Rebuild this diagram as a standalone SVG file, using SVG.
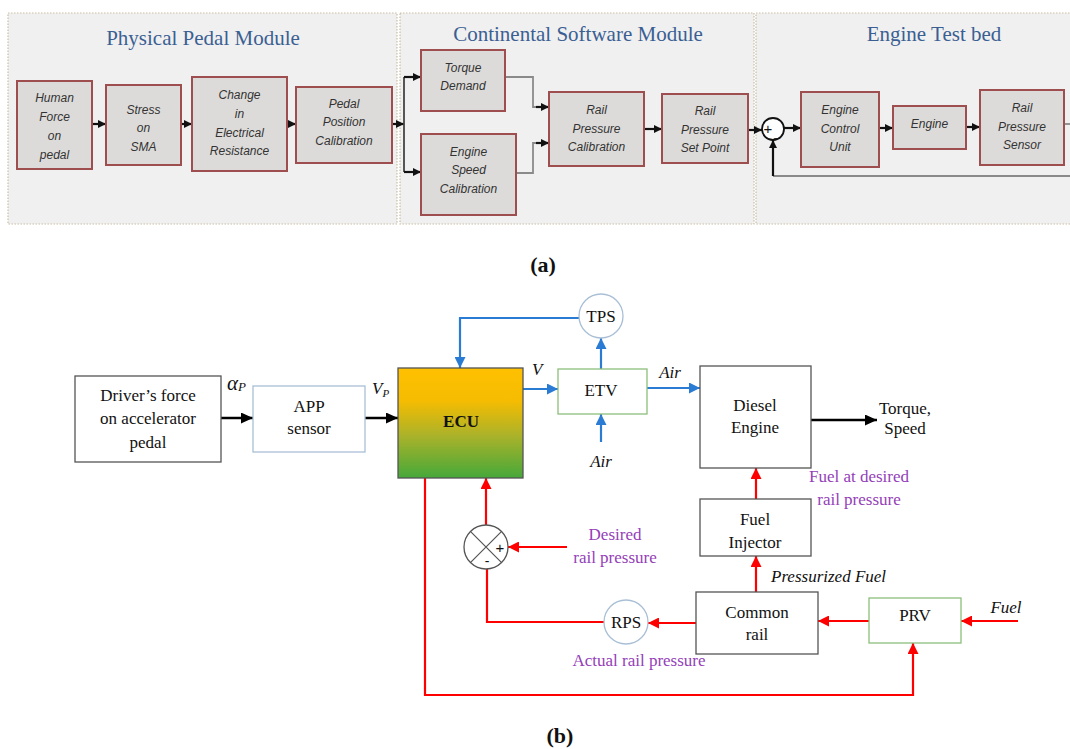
<svg xmlns="http://www.w3.org/2000/svg" width="1070" height="749" viewBox="0 0 1070 749">
<style>
.pa{fill:#f0f0f0;stroke:#c9bfa6;stroke-width:1.2;stroke-dasharray:1.5 1.5}
.ttl{font-family:"Liberation Serif",serif;font-size:21px;fill:#3b5f93;text-anchor:middle}
.ba{fill:#dddbd9;stroke:#9e4e4e;stroke-width:2}
.ta{font-family:"Liberation Sans",Arial,sans-serif;font-style:italic;font-size:12px;fill:#333;text-anchor:middle}
.ca{fill:none;stroke:#111;stroke-width:2.2}
.cg{fill:none;stroke:#8a8a8a;stroke-width:1.8}
.bk{fill:none;stroke:#000;stroke-width:2.5}
.bl{fill:none;stroke:#2a7bd4;stroke-width:2.2}
.rd{fill:none;stroke:#ff0000;stroke-width:2.2}
.tb{font-family:"Liberation Serif",serif;font-size:17px;fill:#111;text-anchor:middle}
.ti{font-family:"Liberation Serif",serif;font-style:italic;font-size:17px;fill:#111}
.pu{font-family:"Liberation Serif",serif;font-size:17px;fill:#9440b8;text-anchor:middle}
.lab{font-family:"Liberation Serif",serif;font-weight:bold;font-size:22px;fill:#111;text-anchor:middle}
</style>
<defs>
<marker id="ma" viewBox="0 0 10 10" refX="10" refY="5" markerWidth="8" markerHeight="8" markerUnits="userSpaceOnUse" orient="auto"><path d="M0,0L10,5L0,10z" fill="#111"/></marker>
<marker id="mk" viewBox="0 0 10 10" refX="10" refY="5" markerWidth="12" markerHeight="11" markerUnits="userSpaceOnUse" orient="auto" preserveAspectRatio="none"><path d="M0,0L10,5L0,10z" fill="#000"/></marker>
<marker id="mb" viewBox="0 0 10 10" refX="10" refY="5" markerWidth="11" markerHeight="11" markerUnits="userSpaceOnUse" orient="auto" preserveAspectRatio="none"><path d="M0,0L10,5L0,10z" fill="#2a7bd4"/></marker>
<marker id="mr" viewBox="0 0 10 10" refX="10" refY="5" markerWidth="11" markerHeight="11" markerUnits="userSpaceOnUse" orient="auto" preserveAspectRatio="none"><path d="M0,0L10,5L0,10z" fill="#ff0000"/></marker>
<linearGradient id="ecu" x1="0" y1="0" x2="0" y2="1">
<stop offset="0" stop-color="#ffc000"/><stop offset="0.3" stop-color="#f5bc02"/><stop offset="0.62" stop-color="#a9b22a"/><stop offset="1" stop-color="#45a83a"/>
</linearGradient>
</defs>

<g id="panel-a-bg">
<rect class="pa" x="8" y="13" width="389" height="211"/>
<rect class="pa" x="400" y="13" width="354" height="211"/>
<rect class="pa" x="756" y="13" width="320" height="211"/>
<text class="ttl" x="203" y="45">Physical Pedal Module</text>
<text class="ttl" x="578" y="41">Continental Software Module</text>
<text class="ttl" x="934" y="41">Engine Test bed</text>
</g>

<g id="connectors">
<path class="ca" d="M92,124H106" marker-end="url(#ma)"/>
<path class="ca" d="M181,124H192" marker-end="url(#ma)"/>
<path class="ca" d="M287,124H296" marker-end="url(#ma)"/>
<path class="ca" d="M392,124H404" marker-end="url(#ma)"/>
<path class="cg" d="M404,77V172" style="stroke:#444"/>
<path class="ca" d="M404,77H421" marker-end="url(#ma)"/>
<path class="ca" d="M404,172H421" marker-end="url(#ma)"/>
<path class="cg" d="M505,77H533V107H541"/>
<path class="ca" d="M536,107H549" marker-end="url(#ma)"/>
<path class="cg" d="M516,173H533V143H541"/>
<path class="ca" d="M536,143H549" marker-end="url(#ma)"/>
<path class="ca" d="M644,129H662" marker-end="url(#ma)"/>
<path class="ca" d="M748,130H762" marker-end="url(#ma)"/>
<path class="ca" d="M784,128H801" marker-end="url(#ma)"/>
<path class="ca" d="M879,128H893" marker-end="url(#ma)"/>
<path class="ca" d="M966,127H980" marker-end="url(#ma)"/>
<path class="cg" d="M1064,124H1070"/>
<path class="cg" d="M1070,176H773"/>
<path class="ca" d="M773,176V140" marker-end="url(#ma)"/>

<path class="bk" d="M221,418H253" marker-end="url(#mk)"/>
<path class="bk" d="M365,418H398" marker-end="url(#mk)"/>
<path class="bl" d="M579,318H460V368" marker-end="url(#mb)"/>
<path class="bl" d="M523,389H558" marker-end="url(#mb)"/>
<path class="bl" d="M601,369V338" marker-end="url(#mb)"/>
<path class="bl" d="M601,442V414" marker-end="url(#mb)"/>
<path class="bl" d="M647,388H700" marker-end="url(#mb)"/>
<path class="bk" d="M811,420H877" marker-end="url(#mk)"/>
<path class="rd" d="M756,499V468" marker-end="url(#mr)"/>
<path class="rd" d="M756,592V556" marker-end="url(#mr)"/>
<path class="rd" d="M869,621H818" marker-end="url(#mr)"/>
<path class="rd" d="M1018,621H961" marker-end="url(#mr)"/>
<path class="rd" d="M696,623H648" marker-end="url(#mr)"/>
<path class="rd" d="M604,622H487V569"/>
<path class="rd" d="M486,525V478" marker-end="url(#mr)"/>
<path class="rd" d="M567,547H508" marker-end="url(#mr)"/>
<path class="rd" d="M425,478V695H913V643" marker-end="url(#mr)"/>
</g>

<g id="human-force"><rect class="ba" x="17" y="81" width="75" height="88"/>
<text class="ta" x="54.5" y="102">Human</text><text class="ta" x="54.5" y="121">Force</text><text class="ta" x="54.5" y="140">on</text><text class="ta" x="54.5" y="159">pedal</text></g>
<g id="stress-sma"><rect class="ba" x="106" y="85" width="75" height="80"/>
<text class="ta" x="143.5" y="114">Stress</text><text class="ta" x="143.5" y="132">on</text><text class="ta" x="143.5" y="151">SMA</text></g>
<g id="change-resistance"><rect class="ba" x="192" y="77" width="95" height="94"/>
<text class="ta" x="239.5" y="99">Change</text><text class="ta" x="239.5" y="118">in</text><text class="ta" x="239.5" y="137">Electrical</text><text class="ta" x="239.5" y="155">Resistance</text></g>
<g id="pedal-position"><rect class="ba" x="296" y="87" width="96" height="76"/>
<text class="ta" x="344" y="108">Pedal</text><text class="ta" x="344" y="126">Position</text><text class="ta" x="344" y="145">Calibration</text></g>
<g id="torque-demand"><rect class="ba" x="421" y="50" width="84" height="61"/>
<text class="ta" x="463" y="72">Torque</text><text class="ta" x="463" y="90">Demand</text></g>
<g id="engine-speed-cal"><rect class="ba" x="421" y="134" width="95" height="81"/>
<text class="ta" x="468.5" y="156">Engine</text><text class="ta" x="468.5" y="174">Speed</text><text class="ta" x="468.5" y="193">Calibration</text></g>
<g id="rail-pressure-cal"><rect class="ba" x="549" y="92" width="95" height="74"/>
<text class="ta" x="596.5" y="114">Rail</text><text class="ta" x="596.5" y="133">Pressure</text><text class="ta" x="596.5" y="151">Calibration</text></g>
<g id="rail-pressure-setpoint"><rect class="ba" x="662" y="94" width="86" height="69"/>
<text class="ta" x="705" y="115">Rail</text><text class="ta" x="705" y="134">Pressure</text><text class="ta" x="705" y="152">Set Point</text></g>
<g id="sum-a"><circle cx="773" cy="129" r="11" fill="#fff" stroke="#111" stroke-width="1.8"/>
<text x="768" y="134" style="font-family:'Liberation Sans',sans-serif;font-size:15px;fill:#111;text-anchor:middle">+</text>
<text x="777" y="137" style="font-family:'Liberation Sans',sans-serif;font-size:11px;fill:#111;text-anchor:middle">_</text></g>
<g id="engine-control-unit"><rect class="ba" x="801" y="92" width="78" height="75"/>
<text class="ta" x="840" y="114">Engine</text><text class="ta" x="840" y="133">Control</text><text class="ta" x="840" y="151">Unit</text></g>
<g id="engine"><rect class="ba" x="893" y="106" width="73" height="43"/>
<text class="ta" x="929.5" y="128">Engine</text></g>
<g id="rail-pressure-sensor"><rect class="ba" x="980" y="90" width="84" height="75"/>
<text class="ta" x="1022" y="112">Rail</text><text class="ta" x="1022" y="131">Pressure</text><text class="ta" x="1022" y="149">Sensor</text></g>

<g id="label-a"><text class="lab" x="543" y="272">(a)</text></g>

<g id="drivers-force"><rect x="75" y="376" width="146" height="86" fill="#fff" stroke="#555" stroke-width="1.3"/>
<text class="tb" x="148" y="401">Driver’s force</text><text class="tb" x="148" y="424">on accelerator</text><text class="tb" x="148" y="448">pedal</text></g>
<g id="alpha-label"><text class="ti" x="227" y="390" style="font-size:21px">α<tspan style="font-size:13px" dy="1">P</tspan></text></g>
<g id="app-sensor"><rect x="253" y="386" width="112" height="66" fill="#fff" stroke="#a9bfd6" stroke-width="1.3"/>
<text class="tb" x="309" y="412">APP</text><text class="tb" x="309" y="434">sensor</text></g>
<g id="vp-label"><text class="ti" x="372" y="394">V<tspan style="font-size:11px" dy="3">P</tspan></text></g>
<g id="ecu"><rect x="398" y="368" width="125" height="110" fill="url(#ecu)" stroke="#555" stroke-width="1.3"/>
<text class="tb" x="461" y="427" font-weight="bold">ECU</text></g>
<g id="v-label"><text class="ti" x="532" y="375">V</text></g>
<g id="tps"><circle cx="601" cy="316" r="22" fill="#fff" stroke="#a9bfd6" stroke-width="1.3"/>
<text class="tb" x="601" y="322">TPS</text></g>
<g id="etv"><rect x="558" y="369" width="89" height="45" fill="#fff" stroke="#8dbf7b" stroke-width="1.3"/>
<text class="tb" x="601" y="396">ETV</text></g>
<g id="air-labels"><text class="ti" x="670" y="378" text-anchor="middle">Air</text><text class="ti" x="601" y="467" text-anchor="middle">Air</text></g>
<g id="diesel-engine"><rect x="700" y="366" width="111" height="102" fill="#fff" stroke="#555" stroke-width="1.3"/>
<text class="tb" x="755" y="411">Diesel</text><text class="tb" x="755" y="433">Engine</text></g>
<g id="torque-speed"><text class="tb" x="905" y="414">Torque,</text><text class="tb" x="905" y="434">Speed</text></g>
<g id="fuel-desired-label"><text class="pu" x="859" y="482">Fuel at desired</text><text class="pu" x="859" y="505">rail pressure</text></g>
<g id="fuel-injector"><rect x="700" y="499" width="111" height="57" fill="#fff" stroke="#555" stroke-width="1.3"/>
<text class="tb" x="755" y="525">Fuel</text><text class="tb" x="755" y="548">Injector</text></g>
<g id="pressurized-label"><text class="ti" x="771" y="582">Pressurized Fuel</text></g>
<g id="common-rail"><rect x="696" y="592" width="122" height="62" fill="#fff" stroke="#555" stroke-width="1.3"/>
<text class="tb" x="757" y="618">Common</text><text class="tb" x="757" y="640">rail</text></g>
<g id="prv"><rect x="869" y="598" width="92" height="45" fill="#fff" stroke="#8dbf7b" stroke-width="1.3"/>
<text class="tb" x="915" y="621">PRV</text></g>
<g id="fuel-label"><text class="ti" x="1006" y="613" text-anchor="middle">Fuel</text></g>
<g id="rps"><circle cx="626" cy="622" r="22" fill="#fff" stroke="#a9bfd6" stroke-width="1.3"/>
<text class="tb" x="626" y="628">RPS</text></g>
<g id="actual-label"><text class="pu" x="639" y="666">Actual rail pressure</text></g>
<g id="sum-b"><circle cx="486" cy="547" r="22" fill="#fff" stroke="#555" stroke-width="1.3"/>
<path d="M470.4,531.4L501.6,562.6M501.6,531.4L470.4,562.6" stroke="#555" stroke-width="1.2"/>
<text x="500" y="553" style="font-family:'Liberation Sans',sans-serif;font-size:15px;fill:#111;text-anchor:middle">+</text>
<text x="487" y="566" style="font-family:'Liberation Sans',sans-serif;font-size:14px;fill:#111;text-anchor:middle">-</text></g>
<g id="desired-label"><text class="pu" x="615" y="540">Desired</text><text class="pu" x="615" y="563">rail pressure</text></g>

<g id="label-b"><text class="lab" x="560" y="743">(b)</text></g>
</svg>
